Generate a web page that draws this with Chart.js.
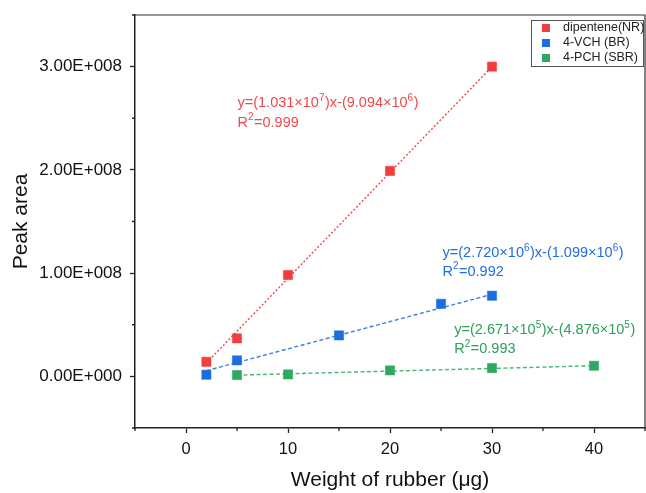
<!DOCTYPE html>
<html lang="en">
<head>
  <meta charset="UTF-8" />
  <title>Peak area vs weight of rubber</title>
  <script src="https://cdn.jsdelivr.net/npm/chart.js"></script>
  <style>
    html, body { margin: 0; padding: 0; background: #fff; overflow: hidden; }
    #wrap { width: 646px; height: 493px; position: relative; }
    canvas { display: block; }
  </style>
</head>
<body>
  <div id="wrap"><canvas id="peakChart"></canvas></div>

  <script>
    // measured points (x = µg rubber, y = peak area)
    const nrX = [2, 5, 10, 20, 30];
    const nrY = [1.41e7, 3.68e7, 9.82e7, 1.99e8, 3.00e8];
    const brX = [2, 5, 15, 25, 30];
    const brY = [1.6e6, 1.55e7, 3.97e7, 7.03e7, 7.81e7];
    const sbrX = [5, 10, 20, 30, 40];
    const sbrY = [1.3e6, 1.9e6, 5.8e6, 8.0e6, 1.03e7];

    // fitted line end points
    const nrFitX = [2, 30];
    const nrFitY = [1.3e7, 3.0e8];
    const brFitX = [2, 30];
    const brFitY = [5.5e6, 7.95e7];
    const sbrFitX = [5, 40];
    const sbrFitY = [1.2e6, 1.03e7];

    const seriesNames = ['dipentene(NR)', '4-VCH (BR)', '4-PCH (SBR)'];
    const seriesColors = ['#f23d3d', '#1a6ee0', '#2fa862'];
    const lineColors = ['#f04545', '#3a80e4', '#4cb476'];

    const xTicks = [0, 10, 20, 30, 40];
    const xMinor = [-5, 5, 15, 25, 35, 45];
    const yTicks = [0, 1e8, 2e8, 3e8];
    const yTickLabels = ['0.00E+000', '1.00E+008', '2.00E+008', '3.00E+008'];
    const yMinor = [-0.5e8, 0.5e8, 1.5e8, 2.5e8, 3.5e8];

    // equation labels: plain text and superscripts alternate
    const eqLines = [
      { color: '#f04848', x: 5.05, y: 2.648e8, parts: ['y=(1.031×10', '7', ')x-(9.094×10', '6', ')'] },
      { color: '#f04848', x: 5.05, y: 2.457e8, parts: ['R', '2', '=0.999'] },
      { color: '#1f6fe0', x: 25.15, y: 1.192e8, parts: ['y=(2.720×10', '6', ')x-(1.099×10', '6', ')'] },
      { color: '#1f6fe0', x: 25.15, y: 1.014e8, parts: ['R', '2', '=0.992'] },
      { color: '#2ca05a', x: 26.3, y: 0.449e8, parts: ['y=(2.671×10', '5', ')x-(4.876×10', '5', ')'] },
      { color: '#2ca05a', x: 26.3, y: 0.265e8, parts: ['R', '2', '=0.993'] }
    ];

    const FONT = "'Liberation Sans', Arial, sans-serif";

    function pts(xs, ys) {
      return xs.map((x, i) => ({ x: x, y: ys[i] }));
    }

    function pointSet(i, xs, ys) {
      return {
        label: seriesNames[i],
        data: pts(xs, ys),
        showLine: false,
        pointStyle: 'rect',
        pointRadius: 6.5,
        backgroundColor: seriesColors[i],
        borderColor: seriesColors[i] + '88',
        borderWidth: 1,
        order: 1
      };
    }

    function fitSet(i, xs, ys, dash) {
      return {
        label: 'fit' + i,
        data: pts(xs, ys),
        showLine: true,
        pointRadius: 0,
        borderColor: lineColors[i],
        borderWidth: 1.4,
        borderDash: dash,
        fill: false,
        order: 2
      };
    }

    // outer frame + minor ticks
    const framePlugin = {
      id: 'frame',
      afterDraw(chart) {
        const ctx = chart.ctx;
        const a = chart.chartArea;
        const xs = chart.scales.x, ys = chart.scales.y;
        ctx.save();
        ctx.strokeStyle = '#333';
        ctx.lineWidth = 1.2;
        ctx.beginPath();
        ctx.moveTo(a.left, a.top);
        ctx.lineTo(a.right, a.top);
        ctx.lineTo(a.right, a.bottom);
        ctx.stroke();

        ctx.strokeStyle = '#222';
        ctx.lineWidth = 1.3;
        ctx.beginPath();
        xMinor.forEach(v => {
          const px = xs.getPixelForValue(v);
          ctx.moveTo(px, a.bottom);
          ctx.lineTo(px, a.bottom + 3);
        });
        yMinor.forEach(v => {
          const py = ys.getPixelForValue(v);
          ctx.moveTo(a.left, py);
          ctx.lineTo(a.left - 3, py);
        });
        ctx.stroke();
        ctx.restore();
      }
    };

    // equation text with superscripts
    const eqPlugin = {
      id: 'equations',
      afterDatasetsDraw(chart) {
        const ctx = chart.ctx;
        const xs = chart.scales.x, ys = chart.scales.y;
        ctx.save();
        ctx.textBaseline = 'middle';
        ctx.textAlign = 'left';
        eqLines.forEach(eq => {
          let px = xs.getPixelForValue(eq.x);
          const py = ys.getPixelForValue(eq.y);
          ctx.fillStyle = eq.color;
          eq.parts.forEach((t, k) => {
            const sup = k % 2 === 1;
            ctx.font = (sup ? '10px ' : '14.5px ') + FONT;
            ctx.fillText(t, px, sup ? py - 5 : py);
            px += ctx.measureText(t).width + (sup ? 0.5 : 0);
          });
        });
        ctx.restore();
      }
    };

    // boxed legend in the top right corner
    const legendPlugin = {
      id: 'boxLegend',
      afterDraw(chart) {
        const ctx = chart.ctx;
        const a = chart.chartArea;
        const bx = a.right - 114, by = a.top + 5;
        ctx.save();
        ctx.fillStyle = '#fff';
        ctx.fillRect(bx, by, 112, 46);
        ctx.strokeStyle = '#555';
        ctx.lineWidth = 1;
        ctx.strokeRect(bx + 0.5, by + 0.5, 112, 46);
        ctx.font = '12.5px ' + FONT;
        ctx.textBaseline = 'middle';
        seriesNames.forEach((name, i) => {
          const cy = by + 8 + i * 15;
          ctx.fillStyle = seriesColors[i];
          ctx.fillRect(bx + 11, cy - 4, 8, 8);
          ctx.fillStyle = '#222';
          ctx.fillText(name, bx + 32, cy);
        });
        ctx.restore();
      }
    };

    const ctx = document.getElementById('peakChart').getContext('2d');
    new Chart(ctx, {
      type: 'scatter',
      data: {
        datasets: [
          pointSet(0, nrX, nrY),
          pointSet(1, brX, brY),
          pointSet(2, sbrX, sbrY),
          fitSet(0, nrFitX, nrFitY, [2, 2]),
          fitSet(1, brFitX, brFitY, [4, 2.5]),
          fitSet(2, sbrFitX, sbrFitY, [4, 2.5])
        ]
      },
      options: {
        responsive: true,
        maintainAspectRatio: false,
        animation: false,
        layout: { autoPadding: false, padding: { top: 15, right: 1, left: 0, bottom: 0 } },
        plugins: {
          legend: { display: false },
          tooltip: { enabled: false }
        },
        scales: {
          x: {
            type: 'linear',
            min: -5,
            max: 45,
            afterBuildTicks: s => { s.ticks = xTicks.map(v => ({ value: v })); },
            afterFit: s => { s.height = 65; s.paddingLeft = 0; s.paddingRight = 0; },
            grid: { drawOnChartArea: false, tickLength: 5, tickColor: '#222', tickWidth: 1.3 },
            border: { color: '#222', width: 1.5 },
            ticks: { color: '#111', padding: 7, font: { family: FONT, size: 16.5 }, maxRotation: 0 },
            title: { display: true, text: 'Weight of rubber (μg)', color: '#111',
                     font: { family: FONT, size: 21 }, padding: { top: 0, bottom: 0 } }
          },
          y: {
            type: 'linear',
            min: -0.5e8,
            max: 3.5e8,
            afterBuildTicks: s => { s.ticks = yTicks.map(v => ({ value: v })); },
            afterFit: s => { s.width = 135; s.paddingTop = 0; s.paddingBottom = 0; },
            grid: { drawOnChartArea: false, tickLength: 5, tickColor: '#222', tickWidth: 1.3 },
            border: { color: '#222', width: 1.5 },
            ticks: {
              color: '#111', padding: 8, font: { family: FONT, size: 17 },
              callback: (v, i) => yTickLabels[i]
            },
            title: { display: true, text: 'Peak area', color: '#111',
                     font: { family: FONT, size: 21 }, padding: { top: 9, bottom: 0 } }
          }
        }
      },
      plugins: [framePlugin, eqPlugin, legendPlugin]
    });
  </script>
</body>
</html>
